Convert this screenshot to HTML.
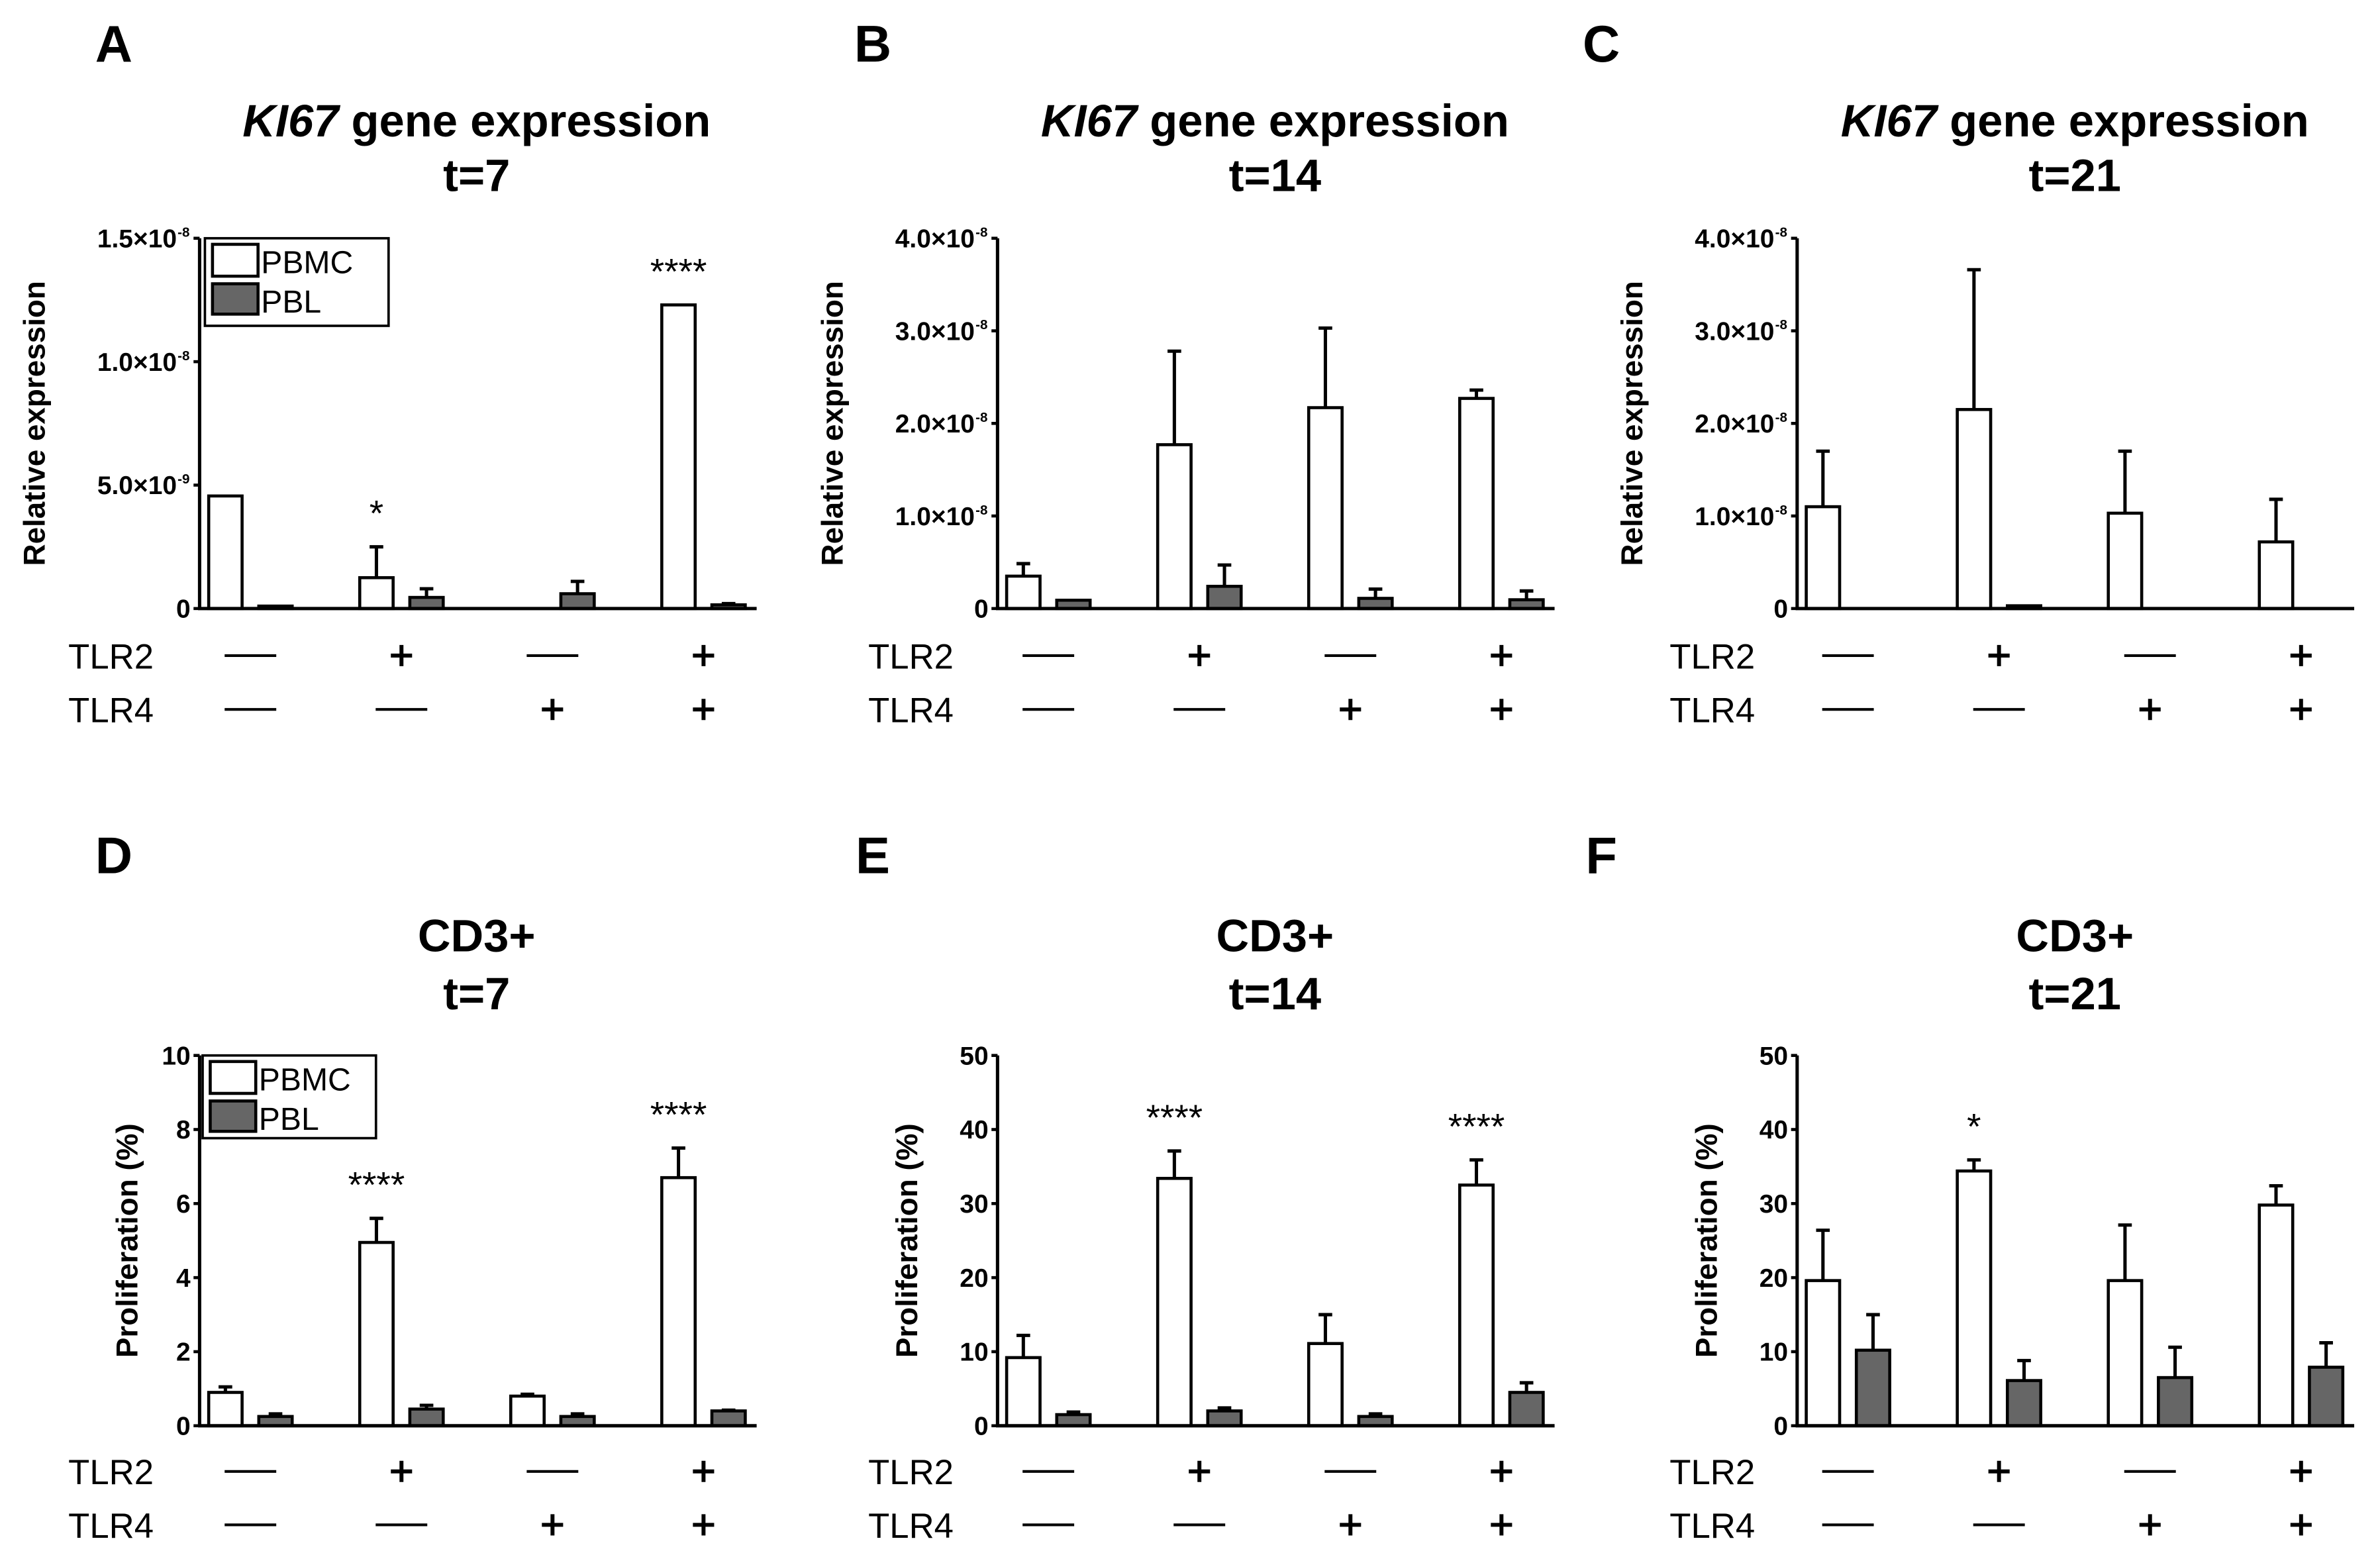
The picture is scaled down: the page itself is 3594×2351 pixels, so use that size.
<!DOCTYPE html>
<html><head><meta charset="utf-8">
<style>
html,body{margin:0;padding:0;background:#fff;}
svg{display:block;font-family:"Liberation Sans",Arial,sans-serif;}
</style></head>
<body>
<svg id="fig" width="3594" height="2351" viewBox="0 0 1568 1026" preserveAspectRatio="none" xmlns="http://www.w3.org/2000/svg"></svg>
<script>
// ---- data ----
const categories = ["TLR2-/TLR4-","TLR2+/TLR4-","TLR2-/TLR4+","TLR2+/TLR4+"];
const tlr2Signs = ["-","+","-","+"];
const tlr4Signs = ["-","-","+","+"];
// Panel A (units of 1e-9)
const aPBMC = [4.56, 1.25, 0, 12.3];
const aPBMCerr = [4.56, 2.5, 0, 12.3];
const aPBL = [0.1, 0.45, 0.6, 0.15];
const aPBLerr = [0.1, 0.8, 1.1, 0.2];
const aStars = ["", "*", "", "****"];
const aTicks = [0, 5, 10, 15];
const aTickMant = ["0", "5.0\u00d710", "1.0\u00d710", "1.5\u00d710"];
const aTickExp = ["", "-9", "-8", "-8"];
// Panel B (units of 1e-8)
const bPBMC = [0.35, 1.77, 2.17, 2.27];
const bPBMCerr = [0.485, 2.78, 3.03, 2.36];
const bPBL = [0.09, 0.24, 0.11, 0.095];
const bPBLerr = [0.09, 0.47, 0.21, 0.19];
const bStars = ["", "", "", ""];
// Panel C (units of 1e-8)
const cPBMC = [1.10, 2.15, 1.03, 0.72];
const cPBMCerr = [1.70, 3.66, 1.70, 1.18];
const cPBL = [0, 0.03, 0, 0];
const cPBLerr = [0, 0.03, 0, 0];
const cStars = ["", "", "", ""];
const bcTicks = [0, 1, 2, 3, 4];
const bcTickMant = ["0", "1.0\u00d710", "2.0\u00d710", "3.0\u00d710", "4.0\u00d710"];
const bcTickExp = ["", "-8", "-8", "-8", "-8"];
// Panel D (%)
const dPBMC = [0.9, 4.95, 0.8, 6.7];
const dPBMCerr = [1.05, 5.6, 0.85, 7.5];
const dPBL = [0.25, 0.45, 0.25, 0.4];
const dPBLerr = [0.32, 0.55, 0.32, 0.42];
const dStars = ["", "****", "", "****"];
const dTicks = [0, 2, 4, 6, 8, 10];
const dTickLabels = ["0", "2", "4", "6", "8", "10"];
// Panel E (%)
const ePBMC = [9.2, 33.4, 11.1, 32.5];
const ePBMCerr = [12.2, 37.1, 15.0, 35.9];
const ePBL = [1.5, 2.0, 1.25, 4.5];
const ePBLerr = [1.85, 2.4, 1.6, 5.8];
const eStars = ["", "****", "", "****"];
// Panel F (%)
const fPBMC = [19.6, 34.4, 19.6, 29.8];
const fPBMCerr = [26.4, 35.9, 27.1, 32.4];
const fPBL = [10.2, 6.1, 6.5, 7.9];
const fPBLerr = [15.0, 8.8, 10.6, 11.2];
const fStars = ["", "*", "", ""];
const efTicks = [0, 10, 20, 30, 40, 50];
const efTickLabels = ["0", "10", "20", "30", "40", "50"];

// ---- drawing ----
const NS = "http://www.w3.org/2000/svg";
const svg = document.getElementById("fig");
function mk(tag, attrs, parent) {
  const e = document.createElementNS(NS, tag);
  for (const k in attrs) e.setAttribute(k, attrs[k]);
  (parent || svg).appendChild(e);
  return e;
}

const panels = [
  {id:"a", letter:"A", col:0, row:0, pbmc:aPBMC, pbmcErr:aPBMCerr, pbl:aPBL, pblErr:aPBLerr, stars:aStars, ticks:aTicks, mant:aTickMant, exp:aTickExp, ymax:15, ytitle:"Relative expression", t1:"kgene", t2:"t=7", legend:true},
  {id:"b", letter:"B", col:1, row:0, pbmc:bPBMC, pbmcErr:bPBMCerr, pbl:bPBL, pblErr:bPBLerr, stars:bStars, ticks:bcTicks, mant:bcTickMant, exp:bcTickExp, ymax:4, ytitle:"Relative expression", t1:"kgene", t2:"t=14", legend:false},
  {id:"c", letter:"C", col:2, row:0, pbmc:cPBMC, pbmcErr:cPBMCerr, pbl:cPBL, pblErr:cPBLerr, stars:cStars, ticks:bcTicks, mant:bcTickMant, exp:bcTickExp, ymax:4, ytitle:"Relative expression", t1:"kgene", t2:"t=21", legend:false},
  {id:"d", letter:"D", col:0, row:1, pbmc:dPBMC, pbmcErr:dPBMCerr, pbl:dPBL, pblErr:dPBLerr, stars:dStars, ticks:dTicks, mant:dTickLabels, exp:null, ymax:10, ytitle:"Proliferation (%)", t1:"CD3+", t2:"t=7", legend:true},
  {id:"e", letter:"E", col:1, row:1, pbmc:ePBMC, pbmcErr:ePBMCerr, pbl:ePBL, pblErr:ePBLerr, stars:eStars, ticks:efTicks, mant:efTickLabels, exp:null, ymax:50, ytitle:"Proliferation (%)", t1:"CD3+", t2:"t=14", legend:false},
  {id:"f", letter:"F", col:2, row:1, pbmc:fPBMC, pbmcErr:fPBMCerr, pbl:fPBL, pblErr:fPBLerr, stars:fStars, ticks:efTicks, mant:efTickLabels, exp:null, ymax:50, ytitle:"Proliferation (%)", t1:"CD3+", t2:"t=21", legend:false}
];

const colAxisX = [131.5, 657.2, 1184];
const colTitleX = [314, 840, 1367];
const colLetterX = [75, 575, 1055];
const colTlrX = [45, 572, 1100];
const rowTop = [157, 695.5];
const rowZero = [401, 939.5];
const rowTitle1 = [90, 627];
const rowTitle2 = [126, 665];
const rowLetter = [40.5, 575.5];
const rowTlr2 = [432, 969.6];
const rowTlr4 = [467.5, 1004.8];

panels.forEach(p => {
  const g = mk("g", {});
  
  
  const ox = colAxisX[p.col];
  const top = rowTop[p.row], zero = rowZero[p.row];
  const yS = v => zero - v / p.ymax * (zero - top);
  const xC = i => ox + 33.5 + i * 99.5;

  const L = mk("text", {x: colLetterX[p.col], y: rowLetter[p.row], "text-anchor":"middle", "font-size":34, "font-weight":"bold"}, g);
  L.textContent = p.letter;
  
  

  const t1 = mk("text", {x: colTitleX[p.col], y: rowTitle1[p.row], "text-anchor":"middle", "font-size":30, "font-weight":"bold"}, g);
  
  
  if (p.t1 === "kgene") {
    const s1 = mk("tspan", {"font-style":"italic"}, t1); s1.textContent = "KI67";
    const s2 = mk("tspan", {}, t1); s2.textContent = " gene expression";
  } else t1.textContent = p.t1;
  const t2 = mk("text", {x: colTitleX[p.col], y: rowTitle2[p.row], "text-anchor":"middle", "font-size":30, "font-weight":"bold"}, g);
  t2.textContent = p.t2;
  
  

  const yt = mk("text", {x: 0, y: 0, "text-anchor":"middle", "font-size":20, "font-weight":"bold",
    transform: "translate(" + (p.row === 0 ? ox - 102 : (p.col === 0 ? ox - 41 : ox - 53)) + "," + ((top + zero) / 2) + ") rotate(-90)"}, g);
  yt.textContent = p.ytitle;
  
  

  for (let i = 0; i < categories.length; i++) {
    const c = xC(i);
    const bx = c - 27.5, bw = 22;
    if (p.pbmc[i] > 0) {
      if (p.pbmcErr[i] > p.pbmc[i]) {
        const el = mk("path", {d: "M" + (bx + bw/2) + " " + yS(p.pbmc[i]) + "V" + yS(p.pbmcErr[i]) + "M" + (bx + bw/2 - 4.5) + " " + yS(p.pbmcErr[i]) + "H" + (bx + bw/2 + 4.5), stroke:"#000", "stroke-width":2.2, fill:"none"}, g);
        
        
      }
      const r = mk("rect", {x: bx, y: yS(p.pbmc[i]), width: bw, height: zero - yS(p.pbmc[i]), fill:"#fff", stroke:"#000", "stroke-width":2}, g);
      
      
    }
    const px = c + 5.5;
    if (p.pbl[i] > 0) {
      if (p.pblErr[i] > p.pbl[i]) {
        const el = mk("path", {d: "M" + (px + bw/2) + " " + yS(p.pbl[i]) + "V" + yS(p.pblErr[i]) + "M" + (px + bw/2 - 4.5) + " " + yS(p.pblErr[i]) + "H" + (px + bw/2 + 4.5), stroke:"#000", "stroke-width":2.2, fill:"none"}, g);
        
        
      }
      const r = mk("rect", {x: px, y: yS(p.pbl[i]), width: bw, height: Math.max(zero - yS(p.pbl[i]), 1), fill:"#666", stroke:"#000", "stroke-width":2}, g);
      
      
    }
    if (p.stars[i]) {
      const topV = Math.max(p.pbmc[i], p.pbmcErr[i]);
      const st = mk("text", {x: c - 16.5, y: yS(topV) - 25 + 11, "text-anchor":"middle", "font-size":24}, g);
      st.textContent = p.stars[i];
      
      
    }
    [[tlr2Signs, rowTlr2], [tlr4Signs, rowTlr4]].forEach(([signs, rowY]) => {
      const yy = rowY[p.row];
      let d;
      if (signs[i] === "+") d = "M" + (c - 7) + " " + yy + "H" + (c + 7) + "M" + c + " " + (yy - 7) + "V" + (yy + 7);
      else d = "M" + (c - 17) + " " + yy + "H" + (c + 17);
      const s = mk("path", {d: d, stroke:"#000", "stroke-width": signs[i] === "+" ? 2.6 : 1.8, fill:"none"}, g);
      
      
    });
  }

  const ax = mk("path", {d: "M" + ox + " " + top + "V" + zero + "M" + (ox - 1) + " " + zero + "H" + (ox + 367), stroke:"#000", "stroke-width":2.2, fill:"none"}, g);
  
  

  p.ticks.forEach((tv, k) => {
    const ty = yS(tv);
    const tk = mk("line", {x1: ox - 4, x2: ox, y1: ty, y2: ty, stroke:"#000", "stroke-width":2}, g);
    
    
    const hasExp = p.exp && p.exp[k];
    const tl = mk("text", {x: ox - (hasExp ? 15 : 6), y: ty + 6, "text-anchor":"end", "font-size":17, "font-weight":"bold"}, g);
    tl.textContent = p.mant[k];
    
    
    if (hasExp) {
      const ex = mk("text", {x: ox - 14.5, y: ty - 1, "font-size":9, "font-weight":"bold"}, g);
      ex.textContent = p.exp[k];
      
      
    }
  });

  const tl2 = mk("text", {x: colTlrX[p.col], y: rowTlr2[p.row] + 8.5, "font-size":23}, g);
  tl2.textContent = "TLR2";
  
  
  const tl4 = mk("text", {x: colTlrX[p.col], y: rowTlr4[p.row] + 8.5, "font-size":23}, g);
  tl4.textContent = "TLR4";
  
  

  if (p.legend) {
    const lg = mk("g", {}, g);
    
    
    const bx0 = p.row === 0 ? 135 : 133.5, bx1 = p.row === 0 ? 256 : 247.7;
    const by0 = top, by1 = p.row === 0 ? 214.7 : 750;
    mk("rect", {x: bx0, y: by0, width: bx1 - bx0, height: by1 - by0, fill:"#fff", stroke:"#000", "stroke-width":1.6}, lg);
    const sw1 = mk("rect", {x: bx0 + 5, y: by0 + 4, width: 30, height: 21, fill:"#fff", stroke:"#000", "stroke-width":2}, lg);
    
    
    const sw2 = mk("rect", {x: bx0 + 5, y: by0 + 30, width: 30, height: 20, fill:"#666", stroke:"#000", "stroke-width":2}, lg);
    
    
    const lt1 = mk("text", {x: bx0 + 37, y: by0 + 23, "font-size":21}, lg);
    lt1.textContent = "PBMC";
    
    
    const lt2 = mk("text", {x: bx0 + 37, y: by0 + 49, "font-size":21}, lg);
    lt2.textContent = "PBL";
    
    
  }
});
</script>
</body></html>
